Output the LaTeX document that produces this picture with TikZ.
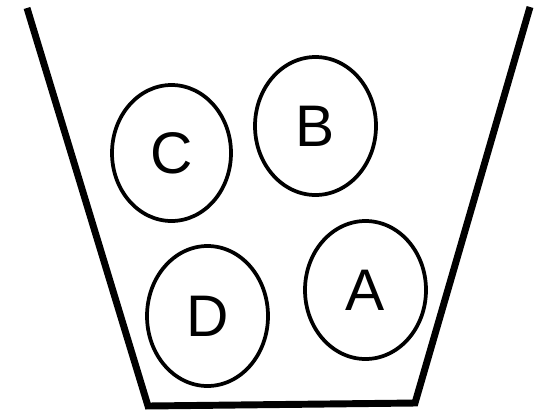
\documentclass[tikz,border=0pt]{standalone}
\usepackage{fontspec}
\setmainfont{Liberation Sans}
\usetikzlibrary{shapes.geometric}
\begin{document}
\begin{tikzpicture}[x=0.75pt,y=-0.75pt,
  ball/.style={draw=black,line width=2.8pt,ellipse,inner sep=0pt,
    font=\fontsize{44}{44}\selectfont},
  bucket/.style={draw=black,line width=5.2pt,line join=miter}]
\useasboundingbox (0,0) rectangle (538,412);
\coordinate (tl) at (27,8);
\coordinate (bl) at (148,406);
\coordinate (br) at (415,403);
\coordinate (tr) at (530,7);
\draw[bucket] (tl) -- (bl) -- (br) -- (tr);
\node[ball,minimum width=89.25pt,minimum height=102pt] (C) at (171.5,153) {C};
\node[ball,minimum width=90.75pt,minimum height=103.5pt] (B) at (315.5,126) {B};
\node[ball,minimum width=90.75pt,minimum height=105pt] (D) at (207.5,316) {D};
\node[ball,minimum width=90.75pt,minimum height=103.5pt] (A) at (365.5,290) {A};
\end{tikzpicture}
\end{document}
